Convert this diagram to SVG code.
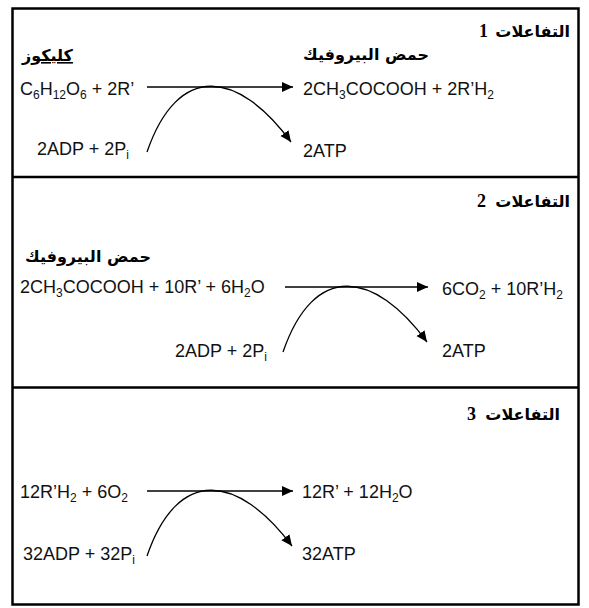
<svg xmlns="http://www.w3.org/2000/svg" width="589" height="608" viewBox="0 0 589 608">
<style>
.f{font-family:"Liberation Sans",Arial,sans-serif;font-size:18px;fill:#111}
.s{font-size:12px}
.ar{font-family:"DejaVu Sans","Noto Sans",sans-serif;font-weight:bold;font-size:16px;fill:#000}
.num{font-family:"Liberation Serif","Times New Roman",serif;font-weight:bold;font-size:18px;fill:#000}
.box{fill:none;stroke:#000;stroke-width:2.5}
.ln{fill:none;stroke:#000;stroke-width:1.6}
.cv{fill:none;stroke:#000;stroke-width:1.3}
</style>
<defs>
<marker id="ah" markerUnits="userSpaceOnUse" markerWidth="12" markerHeight="12" refX="11" refY="5" orient="auto">
<path d="M0,0 L11,5 L0,10 z" fill="#000"/>
</marker>
</defs>
<rect x="0" y="0" width="589" height="608" fill="#fff"/>
<g id="frame">
<rect class="box" x="12.5" y="8.5" width="566" height="596"/>
<line class="box" x1="12.5" y1="177" x2="578.5" y2="177"/>
<line class="box" x1="12.5" y1="387.5" x2="578.5" y2="387.5"/>
</g>
<g id="connectors">
<path class="ln" d="M147,87 H293" marker-end="url(#ah)"/>
<path class="cv" d="M147,152 C178,62 238,70 291,142" marker-end="url(#ah)"/>
<path class="ln" d="M285,287 H428" marker-end="url(#ah)"/>
<path class="cv" d="M283,352 C314,262 374,270 427,342" marker-end="url(#ah)"/>
<path class="ln" d="M147,491 H293" marker-end="url(#ah)"/>
<path class="cv" d="M147,556 C178,466 238,474 292,546" marker-end="url(#ah)"/>
</g>
<g id="section1">
<text class="ar" x="570" y="37" text-anchor="end">التفاعلات</text>
<text class="num" x="479" y="37">1</text>
<text class="ar" x="22" y="61" text-decoration="underline">كليكوز</text>
<text class="ar" x="303" y="60">حمض البيروفيك</text>
</g>
<g id="glucose"><text class="f" x="20" y="95">C<tspan class="s" dy="4">6</tspan><tspan dy="-4">H</tspan><tspan class="s" dy="4">12</tspan><tspan dy="-4">O</tspan><tspan class="s" dy="4">6</tspan><tspan dy="-4"> + 2R’</tspan></text></g>
<g id="pyruvate1"><text class="f" x="303" y="95">2CH<tspan class="s" dy="4">3</tspan><tspan dy="-4">COCOOH + 2R’H</tspan><tspan class="s" dy="4">2</tspan></text></g>
<g id="adp1"><text class="f" x="37" y="155">2ADP + 2P<tspan class="s" dy="4">i</tspan></text></g>
<g id="atp1"><text class="f" x="303" y="157">2ATP</text></g>
<g id="section2">
<text class="ar" x="570" y="207" text-anchor="end">التفاعلات</text>
<text class="num" x="477" y="207">2</text>
<text class="ar" x="25" y="262">حمض البيروفيك</text>
</g>
<g id="pyruvate2"><text class="f" x="20" y="293">2CH<tspan class="s" dy="4">3</tspan><tspan dy="-4">COCOOH + 10R’ + 6H</tspan><tspan class="s" dy="4">2</tspan><tspan dy="-4">O</tspan></text></g>
<g id="co2"><text class="f" x="442" y="295">6CO<tspan class="s" dy="4">2</tspan><tspan dy="-4"> + 10R’H</tspan><tspan class="s" dy="4">2</tspan></text></g>
<g id="adp2"><text class="f" x="175" y="357">2ADP + 2P<tspan class="s" dy="4">i</tspan></text></g>
<g id="atp2"><text class="f" x="442" y="357">2ATP</text></g>
<g id="section3">
<text class="ar" x="560" y="420" text-anchor="end">التفاعلات</text>
<text class="num" x="467" y="420">3</text>
</g>
<g id="rh2"><text class="f" x="20" y="498">12R’H<tspan class="s" dy="4">2</tspan><tspan dy="-4"> + 6O</tspan><tspan class="s" dy="4">2</tspan></text></g>
<g id="water"><text class="f" x="302" y="498">12R’ + 12H<tspan class="s" dy="4">2</tspan><tspan dy="-4">O</tspan></text></g>
<g id="adp3"><text class="f" x="23" y="560">32ADP + 32P<tspan class="s" dy="4">i</tspan></text></g>
<g id="atp3"><text class="f" x="302" y="560">32ATP</text></g>
</svg>
